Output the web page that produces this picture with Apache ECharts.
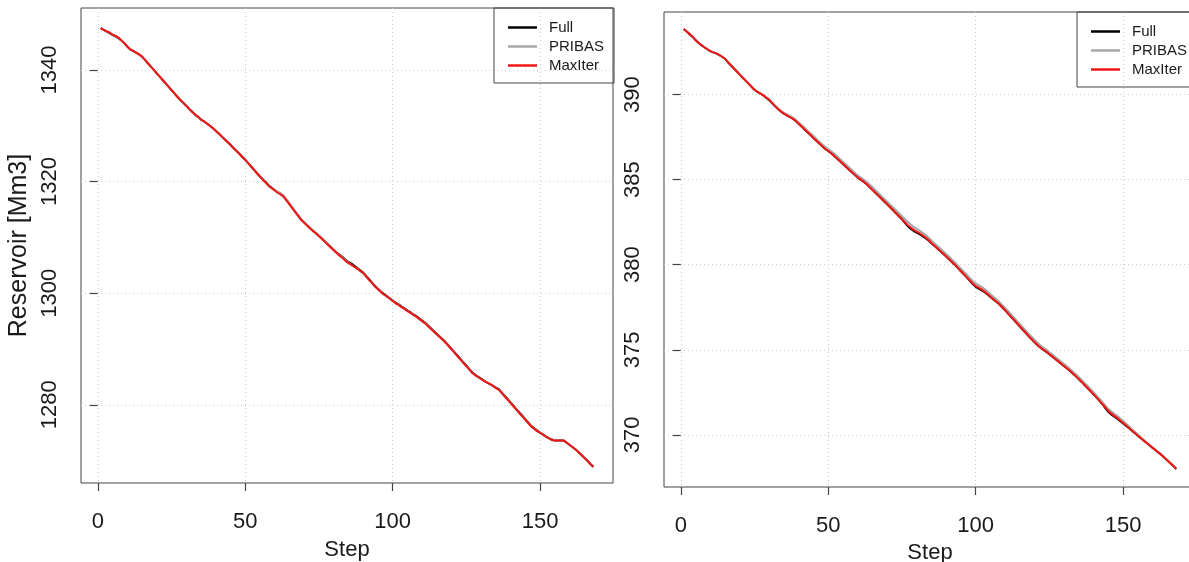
<!DOCTYPE html>
<html>
<head>
<meta charset="utf-8">
<script src="https://cdn.jsdelivr.net/npm/echarts@6/dist/echarts.min.js"></script>
<style>
  html, body { margin: 0; padding: 0; background: #ffffff; }
  #chart { width: 1189px; height: 562px; }
</style>
</head>
<body>
<div id="chart"></div>
<script>
// Series names and tick labels
const seriesNames = ['Full', 'PRIBAS', 'MaxIter'];
const xTicks = [0, 50, 100, 150];
const leftYTicks = [1280, 1300, 1320, 1340];
const rightYTicks = [370, 375, 380, 385, 390];

// Simulation steps 1..168
const steps = Array.from({ length: 168 }, (_, i) => i + 1);

// Reservoir 1 storage [Mm3]
const fullLeft = [
  1347.5,1347.2,1346.9,1346.6,1346.3,1346.0,1345.7,1345.3,1344.8,1344.2,
  1343.7,1343.4,1343.1,1342.8,1342.4,1341.8,1341.2,1340.6,1340.0,1339.4,
  1338.8,1338.2,1337.6,1337.0,1336.4,1335.8,1335.2,1334.6,1334.1,1333.6,
  1333.0,1332.5,1332.0,1331.6,1331.1,1330.8,1330.4,1330.0,1329.6,1329.1,
  1328.6,1328.1,1327.6,1327.1,1326.6,1326.0,1325.5,1325.0,1324.4,1323.9,
  1323.3,1322.7,1322.1,1321.5,1320.9,1320.4,1319.9,1319.3,1318.9,1318.5,
  1318.1,1317.8,1317.4,1316.7,1316.0,1315.3,1314.6,1313.9,1313.2,1312.7,
  1312.2,1311.7,1311.2,1310.8,1310.3,1309.8,1309.3,1308.8,1308.3,1307.8,
  1307.3,1306.9,1306.5,1306.0,1305.6,1305.3,1304.9,1304.5,1304.1,1303.7,
  1303.1,1302.5,1301.9,1301.3,1300.8,1300.3,1299.9,1299.5,1299.1,1298.7,
  1298.3,1298.0,1297.6,1297.3,1296.9,1296.6,1296.2,1295.9,1295.5,1295.1,
  1294.7,1294.2,1293.7,1293.2,1292.7,1292.2,1291.7,1291.2,1290.6,1290.0,
  1289.4,1288.8,1288.2,1287.6,1287.0,1286.4,1285.8,1285.4,1285.0,1284.7,
  1284.3,1284.0,1283.7,1283.4,1283.1,1282.8,1282.2,1281.6,1281.0,1280.4,
  1279.8,1279.2,1278.6,1278.0,1277.4,1276.8,1276.2,1275.8,1275.4,1275.0,
  1274.7,1274.3,1274.0,1273.8,1273.6,1273.6,1273.6,1273.6,1273.2,1272.8,
  1272.4,1272.0,1271.5,1271.0,1270.5,1270.0,1269.4,1268.9
];
const pribasLeft = [
  1347.5,1347.2,1346.9,1346.7,1346.3,1346.1,1345.8,1345.3,1344.8,1344.2,
  1343.7,1343.4,1343.1,1342.8,1342.4,1341.8,1341.2,1340.6,1340.0,1339.4,
  1338.8,1338.2,1337.6,1337.0,1336.4,1335.8,1335.2,1334.6,1334.1,1333.6,
  1333.0,1332.5,1332.0,1331.6,1331.1,1330.8,1330.4,1330.0,1329.6,1329.1,
  1328.6,1328.1,1327.6,1327.1,1326.6,1326.0,1325.5,1325.0,1324.4,1323.9,
  1323.3,1322.7,1322.1,1321.5,1320.9,1320.3,1319.8,1319.2,1318.8,1318.5,
  1318.2,1317.9,1317.5,1316.8,1316.1,1315.4,1314.6,1313.9,1313.2,1312.7,
  1312.2,1311.7,1311.2,1310.8,1310.3,1309.8,1309.3,1308.8,1308.3,1307.8,
  1307.3,1306.8,1306.4,1305.9,1305.5,1305.1,1304.7,1304.4,1304.0,1303.6,
  1303.0,1302.4,1301.8,1301.2,1300.7,1300.2,1299.8,1299.4,1299.0,1298.6,
  1298.2,1297.9,1297.5,1297.2,1296.8,1296.5,1296.1,1295.8,1295.4,1295.0,
  1294.6,1294.1,1293.6,1293.1,1292.6,1292.1,1291.6,1291.1,1290.5,1289.9,
  1289.3,1288.7,1288.1,1287.5,1286.9,1286.3,1285.7,1285.3,1285.0,1284.6,
  1284.3,1284.0,1283.7,1283.4,1283.0,1282.7,1282.1,1281.5,1280.9,1280.3,
  1279.7,1279.1,1278.5,1277.9,1277.3,1276.7,1276.1,1275.7,1275.3,1275.0,
  1274.6,1274.3,1274.0,1273.7,1273.6,1273.6,1273.6,1273.6,1273.2,1272.8,
  1272.4,1272.0,1271.5,1271.0,1270.5,1270.0,1269.4,1268.9
];
const maxIterLeft = [
  1347.5,1347.2,1346.9,1346.7,1346.3,1346.1,1345.8,1345.3,1344.8,1344.2,
  1343.7,1343.4,1343.1,1342.8,1342.4,1341.8,1341.2,1340.6,1340.0,1339.4,
  1338.8,1338.2,1337.6,1337.0,1336.4,1335.8,1335.2,1334.6,1334.1,1333.6,
  1333.0,1332.5,1332.0,1331.6,1331.1,1330.8,1330.4,1330.0,1329.6,1329.1,
  1328.6,1328.1,1327.6,1327.1,1326.6,1326.0,1325.5,1325.0,1324.4,1323.9,
  1323.3,1322.7,1322.1,1321.5,1320.9,1320.3,1319.8,1319.2,1318.8,1318.4,
  1318.0,1317.7,1317.3,1316.6,1315.9,1315.2,1314.5,1313.8,1313.1,1312.6,
  1312.1,1311.6,1311.1,1310.7,1310.2,1309.7,1309.2,1308.7,1308.2,1307.7,
  1307.2,1306.7,1306.3,1305.8,1305.4,1305.1,1304.7,1304.4,1304.0,1303.6,
  1303.0,1302.4,1301.8,1301.2,1300.7,1300.2,1299.8,1299.4,1299.0,1298.6,
  1298.2,1297.9,1297.5,1297.2,1296.8,1296.5,1296.1,1295.8,1295.4,1295.0,
  1294.6,1294.1,1293.6,1293.1,1292.6,1292.1,1291.6,1291.1,1290.5,1289.9,
  1289.3,1288.7,1288.1,1287.5,1286.9,1286.3,1285.7,1285.3,1285.0,1284.6,
  1284.3,1284.0,1283.7,1283.4,1283.0,1282.7,1282.1,1281.5,1280.9,1280.3,
  1279.7,1279.1,1278.5,1277.9,1277.3,1276.7,1276.1,1275.7,1275.3,1275.0,
  1274.6,1274.3,1274.0,1273.7,1273.6,1273.6,1273.6,1273.6,1273.2,1272.8,
  1272.4,1272.0,1271.5,1271.0,1270.5,1270.0,1269.4,1268.9
];

// Reservoir 2 storage [Mm3]
const fullRight = [
  393.85,393.70,393.55,393.40,393.20,393.05,392.90,392.78,392.66,392.55,
  392.48,392.42,392.33,392.22,392.10,391.90,391.72,391.53,391.35,391.17,
  390.99,390.82,390.64,390.46,390.28,390.15,390.05,389.95,389.80,389.66,
  389.48,389.31,389.15,389.00,388.88,388.78,388.68,388.58,388.45,388.28,
  388.12,387.95,387.78,387.62,387.45,387.28,387.12,386.96,386.80,386.68,
  386.55,386.40,386.24,386.08,385.92,385.76,385.60,385.44,385.28,385.12,
  385.00,384.88,384.74,384.57,384.40,384.23,384.06,383.89,383.72,383.55,
  383.38,383.20,383.02,382.85,382.67,382.46,382.26,382.10,381.98,381.88,
  381.79,381.68,381.56,381.42,381.26,381.11,380.96,380.80,380.64,380.48,
  380.32,380.15,379.98,379.80,379.62,379.44,379.26,379.06,378.86,378.70,
  378.60,378.50,378.38,378.25,378.10,377.96,377.82,377.68,377.50,377.32,
  377.13,376.94,376.75,376.56,376.37,376.18,375.99,375.80,375.62,375.44,
  375.27,375.12,375.00,374.88,374.74,374.60,374.46,374.32,374.18,374.04,
  373.90,373.76,373.60,373.44,373.27,373.10,372.92,372.74,372.56,372.38,
  372.19,372.00,371.80,371.56,371.34,371.19,371.07,370.95,370.81,370.67,
  370.53,370.39,370.25,370.10,369.95,369.80,369.66,369.52,369.38,369.24,
  369.10,368.96,368.82,368.66,368.50,368.34,368.18,368.00
];
const pribasRight = [
  393.85,393.70,393.55,393.40,393.20,393.05,392.90,392.78,392.66,392.55,
  392.48,392.42,392.33,392.22,392.10,391.90,391.72,391.53,391.35,391.17,
  390.99,390.82,390.64,390.46,390.28,390.15,390.05,389.95,389.82,389.70,
  389.52,389.35,389.18,389.04,388.92,388.83,388.74,388.64,388.52,388.36,
  388.21,388.05,387.88,387.72,387.56,387.39,387.23,387.07,386.92,386.80,
  386.67,386.53,386.37,386.21,386.05,385.89,385.73,385.57,385.41,385.25,
  385.13,385.01,384.88,384.72,384.55,384.38,384.21,384.04,383.87,383.70,
  383.53,383.36,383.19,383.02,382.85,382.68,382.51,382.36,382.22,382.11,
  382.00,381.88,381.75,381.60,381.43,381.27,381.11,380.95,380.79,380.63,
  380.47,380.30,380.13,379.95,379.77,379.59,379.41,379.23,379.05,378.90,
  378.80,378.70,378.57,378.43,378.27,378.12,377.97,377.82,377.64,377.46,
  377.27,377.08,376.89,376.70,376.51,376.32,376.13,375.94,375.76,375.58,
  375.41,375.25,375.12,375.00,374.86,374.72,374.58,374.44,374.30,374.16,
  374.02,373.88,373.72,373.56,373.39,373.22,373.04,372.86,372.68,372.50,
  372.31,372.12,371.92,371.72,371.52,371.37,371.24,371.12,370.97,370.82,
  370.66,370.50,370.34,370.18,370.02,369.86,369.71,369.56,369.41,369.26,
  369.11,368.97,368.83,368.67,368.51,368.35,368.19,368.01
];
const maxIterRight = [
  393.85,393.70,393.55,393.40,393.20,393.05,392.90,392.78,392.66,392.55,
  392.48,392.42,392.33,392.22,392.10,391.90,391.72,391.53,391.35,391.17,
  390.99,390.82,390.64,390.46,390.28,390.15,390.05,389.95,389.82,389.70,
  389.50,389.32,389.15,389.00,388.88,388.78,388.68,388.58,388.45,388.28,
  388.12,387.95,387.78,387.62,387.45,387.28,387.12,386.96,386.80,386.68,
  386.55,386.40,386.24,386.08,385.92,385.76,385.60,385.44,385.28,385.12,
  385.00,384.88,384.74,384.57,384.40,384.23,384.06,383.89,383.72,383.55,
  383.38,383.20,383.02,382.85,382.67,382.50,382.32,382.18,382.05,381.95,
  381.85,381.73,381.60,381.45,381.28,381.12,380.96,380.80,380.64,380.48,
  380.32,380.15,379.98,379.80,379.62,379.44,379.26,379.08,378.90,378.75,
  378.65,378.55,378.42,378.28,378.12,377.97,377.82,377.68,377.50,377.32,
  377.13,376.94,376.75,376.56,376.37,376.18,375.99,375.80,375.62,375.44,
  375.27,375.12,375.00,374.88,374.74,374.60,374.46,374.32,374.18,374.04,
  373.90,373.76,373.60,373.44,373.27,373.10,372.92,372.74,372.56,372.38,
  372.19,372.00,371.80,371.60,371.40,371.25,371.12,371.00,370.85,370.70,
  370.55,370.40,370.25,370.10,369.95,369.80,369.66,369.52,369.38,369.24,
  369.10,368.96,368.82,368.66,368.50,368.34,368.18,368.00
];

// Styling
const FONT = '"Liberation Sans", Arial, Helvetica, sans-serif';
const TEXT = '#1a1a1a';
const FRAME = '#444444';
const GRIDLINE = '#cccccc';
const COLORS = { Full: '#000000', PRIBAS: '#a6a6a6', MaxIter: '#f01616' };
const plainNumber = v => String(v);

function makeXAxis(gridIndex, labelMargin, nameGap) {
  return {
    type: 'value', gridIndex, min: -5.68, max: 174.68,
    name: 'Step', nameLocation: 'middle', nameGap,
    nameTextStyle: { fontFamily: FONT, fontSize: 22, color: TEXT },
    axisLine: { show: false },
    axisTick: { show: true, length: 8, customValues: xTicks, lineStyle: { color: FRAME, width: 1.2 } },
    axisLabel: { customValues: xTicks, formatter: plainNumber, margin: labelMargin, fontFamily: FONT, fontSize: 22, color: TEXT },
    splitLine: { show: true, lineStyle: { color: GRIDLINE, width: 1, type: [1, 3] } }
  };
}

function makeYAxis(gridIndex, min, max, ticks, name) {
  return {
    type: 'value', gridIndex, min, max,
    name, nameLocation: 'middle', nameGap: 49,
    nameTextStyle: { fontFamily: FONT, fontSize: 25, color: TEXT },
    axisLine: { show: false },
    axisTick: { show: true, length: 8, customValues: ticks, lineStyle: { color: FRAME, width: 1.2 } },
    axisLabel: { customValues: ticks, formatter: plainNumber, rotate: 90, margin: 20, fontFamily: FONT, fontSize: 22, color: TEXT },
    splitLine: { show: true, lineStyle: { color: GRIDLINE, width: 1, type: [1, 3] } }
  };
}

function makeLegend(left, top, padRight) {
  return {
    data: seriesNames, orient: 'vertical', left, top,
    padding: [10, padRight, 8, 14], itemGap: 0,
    icon: 'rect', itemWidth: 29, itemHeight: 2.5,
    borderColor: FRAME, borderWidth: 1, backgroundColor: 'transparent',
    textStyle: { fontFamily: FONT, fontSize: 15, color: TEXT, lineHeight: 19, padding: [0, 0, 0, 7] }
  };
}

function makeLine(name, values, idx) {
  return {
    type: 'line', name, xAxisIndex: idx, yAxisIndex: idx,
    data: steps.map((s, i) => [s, values[i]]),
    showSymbol: false, symbol: 'none', color: COLORS[name],
    lineStyle: { width: 2, color: COLORS[name] },
    emphasis: { disabled: true }
  };
}

const gridBase = { show: true, borderColor: FRAME, borderWidth: 1, backgroundColor: 'transparent', outerBoundsMode: 'none', containLabel: false };

const chart = echarts.init(document.getElementById('chart'), null, { renderer: 'canvas' });
chart.setOption({
  animation: false,
  backgroundColor: '#ffffff',
  grid: [
    Object.assign({ left: 81, top: 8, width: 532, height: 475 }, gridBase),
    Object.assign({ left: 664, top: 12, width: 532, height: 475 }, gridBase)
  ],
  xAxis: [makeXAxis(0, 28, 56), makeXAxis(1, 28, 55)],
  yAxis: [
    makeYAxis(0, 1266.0, 1351.1, leftYTicks, 'Reservoir [Mm3]'),
    makeYAxis(1, 366.94, 394.85, rightYTicks, '')
  ],
  legend: [makeLegend(494, 8, 10), makeLegend(1077, 12, 20)],
  series: [
    makeLine('Full', fullLeft, 0),
    makeLine('PRIBAS', pribasLeft, 0),
    makeLine('MaxIter', maxIterLeft, 0),
    makeLine('Full', fullRight, 1),
    makeLine('PRIBAS', pribasRight, 1),
    makeLine('MaxIter', maxIterRight, 1)
  ]
});
</script>
</body>
</html>
